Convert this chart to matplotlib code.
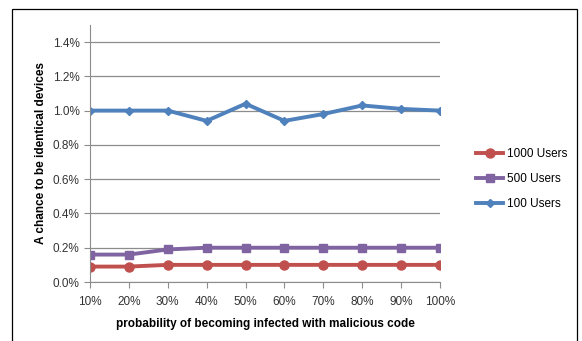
import matplotlib.pyplot as plt
from matplotlib.ticker import PercentFormatter
from matplotlib.patches import Rectangle

plt.rcParams['font.family'] = ['Liberation Sans', 'DejaVu Sans']

categories = ['10%', '20%', '30%', '40%', '50%', '60%', '70%', '80%', '90%', '100%']
users_1000 = [0.09, 0.09, 0.10, 0.10, 0.10, 0.10, 0.10, 0.10, 0.10, 0.10]
users_500 = [0.16, 0.16, 0.19, 0.20, 0.20, 0.20, 0.20, 0.20, 0.20, 0.20]
users_100 = [1.00, 1.00, 1.00, 0.94, 1.04, 0.94, 0.98, 1.03, 1.01, 1.00]

fig = plt.figure(figsize=(5.82, 3.41), dpi=100)
ax = fig.add_axes([0.1546, 0.173, 0.6014, 0.754])

# outer chart border
fig.patches.append(Rectangle((12 / 582, -0.05), 565 / 582, 1.0227, transform=fig.transFigure,
                             fill=False, edgecolor='black', linewidth=0.9))

x = range(len(categories))
ax.plot(x, users_1000, color='#C0504D', lw=2.8, marker='o', ms=6.5, label='1000 Users')
ax.plot(x, users_500, color='#8064A2', lw=2.8, marker='s', ms=6, label='500 Users')
ax.plot(x, users_100, color='#4F81BD', lw=2.8, marker='D', ms=4.5, label='100 Users')

ax.set_xlim(0, len(categories) - 1)
ax.set_ylim(0, 1.5)
ax.set_xticks(list(x))
ax.set_xticklabels(categories)
ax.set_yticks([0, 0.2, 0.4, 0.6, 0.8, 1.0, 1.2, 1.4])
ax.yaxis.set_major_formatter(PercentFormatter(decimals=1))
ax.grid(axis='y', color='#8c8c8c', lw=0.9)
ax.set_axisbelow(True)

for s in ['top', 'right']:
    ax.spines[s].set_visible(False)
for s in ['left', 'bottom']:
    ax.spines[s].set_color('#8c8c8c')
ax.tick_params(axis='both', colors='#8c8c8c', labelcolor='#333333', labelsize=8.5, length=4)
ax.tick_params(axis='x', pad=6)

ax.set_xlabel('probability of becoming infected with malicious code', fontsize=8.5,
              fontweight='bold', labelpad=7)
ax.set_ylabel('A chance to be identical devices', fontsize=8.5, fontweight='bold', labelpad=4)

ax.legend(loc='center left', bbox_to_anchor=(1.103, 0.40), frameon=False, fontsize=8.5,
          handlelength=2.3, handletextpad=0.35, labelspacing=1.1, borderaxespad=0,
          borderpad=0)

fig.savefig('out.png', dpi=100)
